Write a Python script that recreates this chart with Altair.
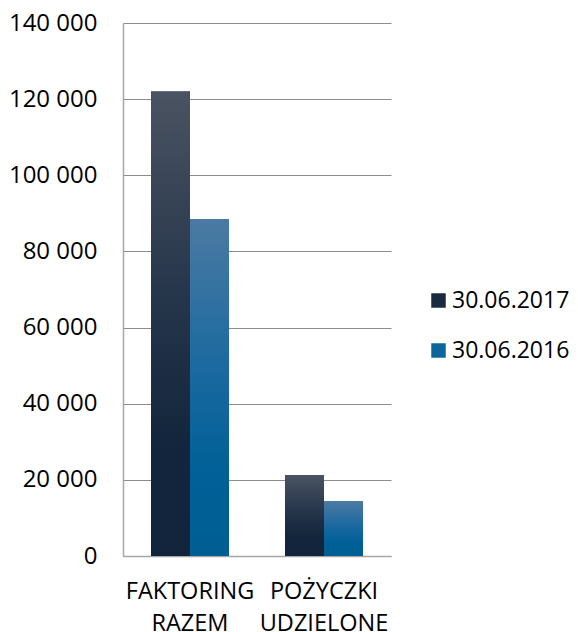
import altair as alt
import pandas as pd

categories = ["FAKTORING RAZEM", "POŻYCZKI UDZIELONE"]
series = ["30.06.2017", "30.06.2016"]
values_2017 = [122000, 21300]
values_2016 = [88500, 14400]
y_ticks = [0, 20000, 40000, 60000, 80000, 100000, 120000, 140000]

rows = []
for i, c in enumerate(categories):
    rows.append({"category": c, "series": series[0], "value": values_2017[i]})
    rows.append({"category": c, "series": series[1], "value": values_2016[i]})
df = pd.DataFrame(rows)

FONT = "Open Sans"

grad_dark = alt.LinearGradient(
    gradient="linear", x1=0, y1=0, x2=0, y2=1,
    stops=[alt.GradientStop(color="#4a5361", offset=0),
           alt.GradientStop(color="#25354a", offset=0.45),
           alt.GradientStop(color="#14263d", offset=0.75),
           alt.GradientStop(color="#12243b", offset=1)])
grad_blue = alt.LinearGradient(
    gradient="linear", x1=0, y1=0, x2=0, y2=1,
    stops=[alt.GradientStop(color="#4b7aa2", offset=0),
           alt.GradientStop(color="#1a69a0", offset=0.45),
           alt.GradientStop(color="#006097", offset=0.75),
           alt.GradientStop(color="#005e93", offset=1)])

x_enc = alt.X("category:N", sort=categories,
              scale=alt.Scale(paddingInner=0.418, paddingOuter=0.209),
              axis=alt.Axis(title=None, labelAngle=0, ticks=False,
                            labelExpr="split(datum.label, ' ')",
                            labelFontSize=23.5, labelFont=FONT, labelColor="#000000",
                            labelPadding=23, labelLineHeight=32,
                            domainColor="#a6a6a6", domainWidth=1.5))
xo_enc = alt.XOffset("series:N", sort=series,
                     scale=alt.Scale(paddingInner=0, paddingOuter=0))
y_enc = alt.Y("value:Q", scale=alt.Scale(domain=[0, 140000]),
              axis=alt.Axis(title=None, values=y_ticks, ticks=False,
                            labelExpr="replace(format(datum.value, ','), ',', ' ')",
                            labelFontSize=24, labelFont=FONT, labelColor="#000000",
                            labelPadding=26, gridColor="#8c8c8c", gridWidth=1,
                            domainColor="#a6a6a6", domainWidth=1.5))

base = alt.Chart(df).encode(x=x_enc, xOffset=xo_enc, y=y_enc)

shadow = base.mark_bar(color="#000000", opacity=0.12, xOffset=3)

solid = base.mark_bar().encode(
    color=alt.Color("series:N", sort=series,
                    scale=alt.Scale(domain=series, range=["#1b2a3f", "#0c669c"]),
                    legend=alt.Legend(title=None, orient="none", legendX=304, legendY=266,
                                      symbolType="square", symbolSize=210,
                                      symbolStrokeWidth=0,
                                      labelFontSize=23, labelFont=FONT, labelColor="#000000",
                                      rowPadding=26, labelOffset=2)))

dark = base.mark_bar(color=grad_dark).transform_filter(alt.datum.series == series[0])
blue = base.mark_bar(color=grad_blue).transform_filter(alt.datum.series == series[1])

chart = alt.layer(shadow, solid, dark, blue).properties(
    width=268, height=533,
    autosize=alt.AutoSizeParams(type="none"),
    padding={"left": 115, "top": 15, "right": 178, "bottom": 78}
).configure_view(strokeWidth=0)

chart.save("out.html", embed_options={"renderer": "svg", "actions": False})
